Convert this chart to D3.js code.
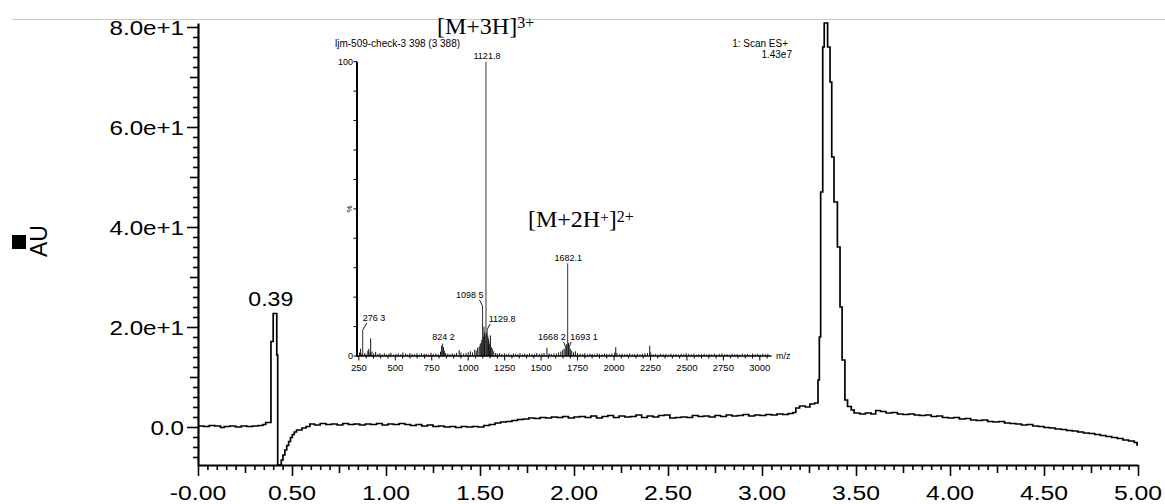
<!DOCTYPE html>
<html><head><meta charset="utf-8">
<script src="https://cdn.jsdelivr.net/npm/d3@7"></script>
<style>
body{margin:0;background:#fff;}
svg{display:block;background:#fff;}
text{font-family:"Liberation Sans",Arial,sans-serif;fill:#000;}
.serif{font-family:"Liberation Serif","Times New Roman",serif;}
</style></head><body>
<svg id="c" width="1165" height="504"></svg>
<script>
// ---------- main chromatogram data ----------
const rtTicks=[0,0.5,1,1.5,2,2.5,3,3.5,4,4.5,5];
const rtTickLabels=["-0.00","0.50","1.00","1.50","2.00","2.50","3.00","3.50","4.00","4.50","5.00"];
const auTicks=[0,20,40,60,80];
const auTickLabels=["0.0","2.0e+1","4.0e+1","6.0e+1","8.0e+1"];
const peakRt=[0.39];
const peakRtLabels=["0.39"];
const peakRtHeights=[22.7];
const chromatogram=[
[0.00,0.2],[0.03,0.1],[0.06,0.3],[0.09,0.2],[0.12,-0.1],[0.14,0.1],[0.17,0.2],[0.20,0.0],[0.23,0.2],[0.26,0.1],[0.29,0.2],[0.32,0.3],[0.345,0.5],[0.36,0.9],
[0.388,17.1],[0.400,22.7],[0.419,14.4],[0.424,-7.6],[0.443,-6.6],[0.452,-5.6],[0.462,-4.6],[0.472,-3.7],[0.482,-2.9],[0.492,-2.1],[0.502,-1.5],[0.512,-1.0],[0.524,-0.6],[0.553,-0.2],[0.575,0.1],[0.595,0.6],
[0.62,0.4],[0.65,0.7],[0.68,0.5],[0.71,0.6],[0.74,0.4],[0.77,0.7],[0.80,0.5],[0.83,0.6],[0.86,0.4],[0.89,0.6],[0.92,0.5],[0.95,0.7],[0.98,0.4],[1.01,0.6],[1.04,0.5],[1.07,0.7],[1.10,0.5],[1.13,0.3],[1.16,0.5],[1.19,0.2],[1.22,0.4],[1.25,0.1],[1.28,0.2],[1.31,0.0],[1.34,0.1],[1.37,-0.1],[1.40,0.1],[1.43,0.0],[1.46,0.1],[1.49,0.0],
[1.52,0.3],[1.55,0.5],[1.58,0.8],[1.61,1.0],[1.64,1.1],[1.67,1.3],[1.70,1.5],[1.73,1.6],[1.76,1.8],[1.79,1.7],[1.82,1.9],[1.85,1.8],[1.88,2.0],[1.91,1.9],[1.94,2.1],[1.97,1.8],[2.00,2.0],[2.03,2.1],[2.06,1.9],[2.09,2.2],[2.12,1.8],[2.15,2.1],[2.18,2.3],[2.21,1.9],[2.24,2.2],[2.27,2.0],[2.30,2.1],[2.33,2.4],[2.36,1.9],[2.39,2.2],[2.42,2.0],[2.45,2.3],[2.48,2.4],[2.51,1.8],[2.54,1.9],[2.57,2.0],[2.60,1.9],[2.63,2.3],[2.66,2.1],[2.69,2.2],[2.72,2.0],[2.75,2.3],[2.78,2.1],[2.81,2.4],[2.84,2.2],[2.87,2.3],[2.90,2.5],[2.93,2.2],[2.96,2.4],[2.99,2.3],[3.02,2.5],[3.05,2.4],[3.08,2.6],[3.11,2.5],[3.14,2.7],[3.165,2.9],[3.18,3.8],[3.20,4.2],[3.23,4.0],[3.255,4.6],[3.28,4.8],
[3.298,9.4],[3.305,18.0],[3.312,47],[3.323,76],[3.331,80.8],[3.349,76],[3.362,69],[3.371,54],[3.383,45],[3.401,36],[3.415,24],[3.426,13.4],[3.441,5.4],[3.455,4.1],[3.475,3.4],[3.49,2.8],
[3.52,2.6],[3.55,2.8],[3.58,2.6],[3.605,3.3],[3.63,3.1],[3.66,2.8],[3.69,2.9],[3.72,2.6],[3.75,2.5],[3.78,2.6],[3.81,2.4],[3.84,2.3],[3.87,2.4],[3.90,2.1],[3.93,2.2],[3.96,1.9],[3.99,1.8],[4.02,1.9],[4.05,1.6],[4.08,1.7],[4.11,1.4],[4.14,1.3],[4.17,1.4],[4.20,1.1],[4.23,1.0],[4.26,1.1],[4.29,0.8],[4.32,0.7],[4.35,0.6],[4.38,0.4],[4.41,0.5],[4.44,0.2],[4.47,0.1],[4.50,-0.1],[4.53,-0.2],[4.56,-0.4],[4.59,-0.5],[4.62,-0.7],[4.65,-0.8],[4.68,-1.0],[4.71,-1.2],[4.74,-1.3],[4.77,-1.5],[4.80,-1.7],[4.83,-1.9],[4.86,-2.1],[4.89,-2.3],[4.92,-2.6],[4.95,-2.8],[4.98,-3.1],[4.995,-3.6],[5.0,-3.6]
];

// ---------- inset mass spectrum data ----------
const mzTicks=[250,500,750,1000,1250,1500,1750,2000,2250,2500,2750,3000];
const mzTickLabels=["250","500","750","1000","1250","1500","1750","2000","2250","2500","2750","3000"];
const msLabeledMz=[276.3,824.2,1098.5,1121.8,1129.8,1668.2,1682.1,1693.1];
const msLabeledRel=[8.8,4.2,17,100,9,3,31.5,3.2];
const msLabelText=["276 3","824 2","1098 5","1121.8","1129.8","1668 2","1682.1","1693 1"];
const msNoise=[
[255,1.2],[262,2.5],[270,0.8],[290,1.0],[300,0.6],[312,1.8],[318,2.4],[326,1.2],[331,6.0],[340,1.5],[352,0.8],[365,1.4],[380,0.7],[395,1.0],[410,0.5],[425,0.9],[440,0.6],[458,0.8],[470,1.1],[488,0.5],[505,0.7],[520,0.9],[538,0.6],[552,1.2],[570,0.8],[585,0.5],[600,1.0],[615,0.7],[632,0.6],[648,0.9],[665,0.5],[680,1.0],[698,0.7],[712,0.8],[730,0.6],[745,1.1],[760,0.7],[778,0.9],[795,0.6],[810,1.5],[818,3.5],[830,3.0],[836,1.8],[845,1.0],[860,0.8],[875,0.6],[890,0.9],[905,0.7],[920,1.0],[938,2.0],[950,1.2],[968,0.8],[985,1.0],[1000,1.3],[1015,1.6],[1030,1.2],[1045,2.2],[1055,1.8],[1065,2.8],[1075,3.2],[1082,4.0],[1088,4.5],[1093,5.5],[1103,6.5],[1108,10],[1112,8],[1116,7],[1126,8],[1134,7],[1138,6],[1142,5],[1147,4],[1152,7],[1158,3],[1165,2.5],[1175,1.6],[1188,1.0],[1200,0.8],[1215,1.0],[1230,0.7],[1248,0.9],[1262,0.6],[1278,0.8],[1295,0.5],[1310,0.9],[1325,0.7],[1340,0.6],[1355,1.0],[1372,0.6],[1388,0.8],[1405,0.6],[1420,0.9],[1438,0.7],[1455,0.6],[1470,1.0],[1488,0.7],[1505,0.8],[1520,1.0],[1540,2.8],[1555,0.9],[1570,0.7],[1588,0.9],[1605,0.8],[1620,1.2],[1635,1.5],[1648,2.0],[1658,2.5],[1675,4.0],[1688,4.5],[1700,2.5],[1710,1.8],[1722,1.2],[1735,1.6],[1750,1.0],[1768,0.8],[1785,0.7],[1800,1.0],[1818,0.6],[1835,0.8],[1850,0.7],[1868,0.6],[1885,0.9],[1900,0.7],[1918,0.6],[1935,0.8],[1950,0.7],[1968,0.6],[1985,0.9],[2005,1.2],[2012,3.0],[2020,1.0],[2038,0.6],[2055,0.8],[2072,0.6],[2090,0.7],[2108,0.9],[2125,0.6],[2142,0.7],[2160,0.8],[2178,0.6],[2195,0.7],[2212,0.9],[2230,1.0],[2245,3.5],[2252,1.2],[2268,0.6],[2285,0.7],[2302,0.5],[2320,0.8],[2338,0.6],[2355,0.7],[2372,0.5],[2390,0.8],[2408,0.6],[2425,0.7],[2442,0.5],[2460,0.8],[2478,0.6],[2495,1.0],[2512,0.7],[2530,0.6],[2548,0.8],[2565,0.5],[2582,0.7],[2600,0.6],[2618,0.8],[2635,0.5],[2652,0.7],[2670,0.6],[2688,0.8],[2705,0.5],[2722,0.7],[2740,0.9],[2758,0.6],[2775,0.7],[2792,0.5],[2810,0.8],[2828,0.6],[2845,0.7],[2862,0.5],[2880,0.8],[2898,0.6],[2915,0.7],[2932,0.5],[2950,0.8],[2968,0.6],[2985,0.7],[3002,0.5],[3020,0.8],[3038,0.6],[3055,0.7]
];

// ---------- drawing ----------
const svg=d3.select("#c");
svg.append("line").attr("x1",12).attr("x2",1165).attr("y1",19.5).attr("y2",19.5).attr("stroke","#c8c8c8").attr("stroke-width",1);

const x=d3.scaleLinear().domain([0,5]).range([198,1138]);
const y=d3.scaleLinear().domain([-7.6,80.8]).range([465,23]);

function axisLayer(gen,tr,vals,size,keepDomain){
  const g=svg.append("g").attr("transform",tr)
    .call(gen.tickValues(vals).tickSize(size).tickSizeOuter(0).tickFormat(""));
  g.selectAll(".tick line").attr("stroke","#000").attr("stroke-width",1.6);
  if(keepDomain) g.select(".domain").attr("stroke","#000").attr("stroke-width",2.2);
  else g.select(".domain").remove();
  return g;
}
const auMinor=d3.range(-6,81,2).filter(v=>v%10!==0);
const auMid=[10,30,50,70];
axisLayer(d3.axisLeft(y),"translate(198,0)",auMinor,5,true);
axisLayer(d3.axisLeft(y),"translate(198,0)",auMid,8,false);
axisLayer(d3.axisLeft(y),"translate(198,0)",auTicks,11,false);
const rtMinor=d3.range(0,5.001,0.05).map(v=>+v.toFixed(2)).filter(v=>Math.round(v*100)%25!==0);
const rtMid=[0.25,0.75,1.25,1.75,2.25,2.75,3.25,3.75,4.25,4.75];
axisLayer(d3.axisBottom(x),"translate(0,465)",rtMinor,5,true);
axisLayer(d3.axisBottom(x),"translate(0,465)",rtMid,8,false);
axisLayer(d3.axisBottom(x),"translate(0,465)",rtTicks,11,false);

// tick labels
svg.append("g").selectAll("text").data(auTicks).join("text")
  .attr("transform",d=>`translate(184,${y(d)+7.5}) scale(1.15,1)`)
  .attr("text-anchor","end").attr("font-size",21)
  .text((d,i)=>auTickLabels[i]);
svg.append("g").selectAll("text").data(rtTicks).join("text")
  .attr("transform",d=>`translate(${x(d)},500) scale(1.18,1)`)
  .attr("text-anchor","middle").attr("font-size",21)
  .text((d,i)=>rtTickLabels[i]);

// y title
svg.append("rect").attr("x",12).attr("y",235).attr("width",14).attr("height",14).attr("fill","#000");
svg.append("text").attr("transform","translate(47,241) rotate(-90)").attr("text-anchor","middle").attr("font-size",23).text("AU");

// trace
svg.append("path").datum(chromatogram)
  .attr("d",d3.line().x(d=>x(d[0])).y(d=>y(d[1])).curve(d3.curveStepAfter))
  .attr("fill","none").attr("stroke","#000").attr("stroke-width",1.7);

// retention time label
svg.append("g").selectAll("text").data(peakRt).join("text")
  .attr("transform",(d,i)=>`translate(${x(d)-0.5},${y(peakRtHeights[i])-8}) scale(1.1,1)`)
  .attr("text-anchor","middle").attr("font-size",21).text((d,i)=>peakRtLabels[i]);

// ---------- inset ----------
const mx=d3.scaleLinear().domain([240,3080]).range([357.4,771.5]);
const my=d3.scaleLinear().domain([0,100]).range([356,61.7]);
const ins=svg.append("g");
ins.append("g").selectAll("line").data(msNoise).join("line")
  .attr("x1",d=>mx(d[0])).attr("x2",d=>mx(d[0])).attr("y1",my(0)).attr("y2",d=>my(d[1]))
  .attr("stroke","#111").attr("stroke-width",1);
ins.append("g").selectAll("line").data(msLabeledMz).join("line")
  .attr("x1",d=>mx(d)).attr("x2",d=>mx(d)).attr("y1",my(0)).attr("y2",(d,i)=>my(msLabeledRel[i]))
  .attr("stroke","#333").attr("stroke-width",1);
ins.append("line").attr("x1",357).attr("x2",357).attr("y1",my(100)).attr("y2",my(0)+1).attr("stroke","#000").attr("stroke-width",2);
ins.append("line").attr("x1",356).attr("x2",mx(3080)).attr("y1",my(0)).attr("y2",my(0)).attr("stroke","#000").attr("stroke-width",1.6);
ins.append("g").selectAll("line").data(d3.range(0,101,10)).join("line")
  .attr("x1",353.5).attr("x2",357).attr("y1",d=>my(d)).attr("y2",d=>my(d)).attr("stroke","#000").attr("stroke-width",1);
ins.append("g").selectAll("line").data(d3.range(250,3051,50)).join("line")
  .attr("x1",d=>mx(d)).attr("x2",d=>mx(d)).attr("y1",my(0)).attr("y2",d=>my(0)+(d%250===0?4.5:2.5)).attr("stroke","#000").attr("stroke-width",1);
ins.append("g").selectAll("text").data(mzTicks).join("text")
  .attr("x",d=>mx(d)).attr("y",370.5).attr("text-anchor","middle").attr("font-size",9.5)
  .text((d,i)=>mzTickLabels[i]);
ins.append("text").attr("x",776).attr("y",359).attr("font-size",9).text("m/z");
ins.append("text").attr("x",353).attr("y",65).attr("text-anchor","end").attr("font-size",9).text("100");
ins.append("text").attr("x",353).attr("y",359).attr("text-anchor","end").attr("font-size",9).text("0");
ins.append("text").attr("transform","translate(352,209) rotate(-90)").attr("text-anchor","middle").attr("font-size",8).text("%");
ins.append("text").attr("x",335).attr("y",47).attr("font-size",10).text("ljm-509-check-3 398 (3 388)");
ins.append("text").attr("x",788).attr("y",47).attr("text-anchor","end").attr("font-size",10).text("1: Scan ES+");
ins.append("text").attr("x",792).attr("y",57.5).attr("text-anchor","end").attr("font-size",10).text("1.43e7");

const labStyle=[
 {a:"start",dx:0,by:321,lead:[4,323]},
 {a:"middle",dx:1,by:340,lead:null},
 {a:"end",dx:1,by:298,lead:[-3,300]},
 {a:"middle",dx:1,by:59,lead:null},
 {a:"start",dx:1.5,by:322,lead:[3,324]},
 {a:"end",dx:0,by:340,lead:[-2,342]},
 {a:"middle",dx:0.5,by:261,lead:null},
 {a:"start",dx:1,by:340,lead:[2,342]}
];
msLabeledMz.forEach((mz,i)=>{
  const s=labStyle[i], px=mx(mz);
  ins.append("text").attr("x",px+s.dx).attr("y",s.by).attr("text-anchor",s.a).attr("font-size",9).text(msLabelText[i]);
  if(s.lead){
    ins.append("path").attr("d",`M${px+s.lead[0]},${s.lead[1]}L${px},${my(msLabeledRel[i])}`)
      .attr("fill","none").attr("stroke","#000").attr("stroke-width",0.9);
  }
});

const t1=svg.append("text").attr("class","serif").attr("x",437).attr("y",34).attr("font-size",24);
t1.append("tspan").text("[M+3H]");
t1.append("tspan").attr("dy",-6).attr("font-size",16).text("3+");
const t2=svg.append("text").attr("class","serif").attr("x",528).attr("y",227).attr("font-size",24);
t2.append("tspan").text("[M+2H");
t2.append("tspan").attr("dy",-5).attr("font-size",15).text("+");
t2.append("tspan").attr("dy",5).text("]");
t2.append("tspan").attr("dy",-5).attr("font-size",16).text("2+");
</script>
</body></html>
